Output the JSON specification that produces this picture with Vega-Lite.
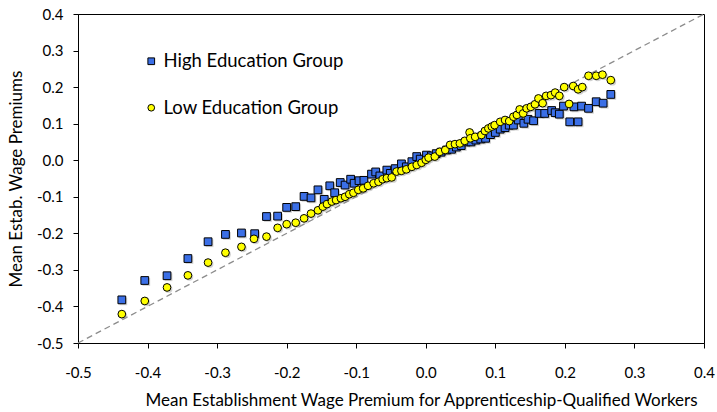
{
  "$schema": "https://vega.github.io/schema/vega-lite/v6.json",
  "width": 626,
  "height": 329,
  "autosize": "none",
  "padding": {"left": 78, "top": 14, "right": 13, "bottom": 69},
  "background": "white",
  "config": {
    "font": "Lato",
    "view": {"stroke": "black", "strokeWidth": 1},
    "axis": {
      "grid": false,
      "domainColor": "black",
      "tickColor": "black",
      "tickSize": 5,
      "labelFont": "Lato",
      "labelFontSize": 15,
      "labelColor": "black",
      "labelOverlap": false,
      "labelSeparation": 0,
      "titleFont": "Lato",
      "titleFontSize": 17,
      "titleFontWeight": "normal",
      "titleColor": "black"
    }
  },
  "datasets": {
    "diag": [{"x": -0.5, "y": -0.5}, {"x": 0.4, "y": 0.4}],
    "points": [
      {"group": "High Education Group", "x": -0.437, "y": -0.382},
      {"group": "High Education Group", "x": -0.404, "y": -0.329},
      {"group": "High Education Group", "x": -0.372, "y": -0.316},
      {"group": "High Education Group", "x": -0.342, "y": -0.269},
      {"group": "High Education Group", "x": -0.313, "y": -0.223},
      {"group": "High Education Group", "x": -0.288, "y": -0.203},
      {"group": "High Education Group", "x": -0.265, "y": -0.199},
      {"group": "High Education Group", "x": -0.246, "y": -0.201},
      {"group": "High Education Group", "x": -0.229, "y": -0.154},
      {"group": "High Education Group", "x": -0.213, "y": -0.153},
      {"group": "High Education Group", "x": -0.2, "y": -0.129},
      {"group": "High Education Group", "x": -0.187, "y": -0.127},
      {"group": "High Education Group", "x": -0.175, "y": -0.099},
      {"group": "High Education Group", "x": -0.165, "y": -0.103},
      {"group": "High Education Group", "x": -0.155, "y": -0.081},
      {"group": "High Education Group", "x": -0.146, "y": -0.107},
      {"group": "High Education Group", "x": -0.138, "y": -0.07},
      {"group": "High Education Group", "x": -0.131, "y": -0.089},
      {"group": "High Education Group", "x": -0.123, "y": -0.061},
      {"group": "High Education Group", "x": -0.116, "y": -0.068},
      {"group": "High Education Group", "x": -0.108, "y": -0.052},
      {"group": "High Education Group", "x": -0.103, "y": -0.063},
      {"group": "High Education Group", "x": -0.096, "y": -0.056},
      {"group": "High Education Group", "x": -0.089, "y": -0.055},
      {"group": "High Education Group", "x": -0.078, "y": -0.038},
      {"group": "High Education Group", "x": -0.072, "y": -0.032},
      {"group": "High Education Group", "x": -0.066, "y": -0.043},
      {"group": "High Education Group", "x": -0.056, "y": -0.027},
      {"group": "High Education Group", "x": -0.051, "y": -0.036},
      {"group": "High Education Group", "x": -0.044, "y": -0.023},
      {"group": "High Education Group", "x": -0.035, "y": -0.01},
      {"group": "High Education Group", "x": -0.028, "y": -0.018},
      {"group": "High Education Group", "x": -0.02, "y": -0.004},
      {"group": "High Education Group", "x": -0.013, "y": 0.01},
      {"group": "High Education Group", "x": -0.008, "y": 0.003},
      {"group": "High Education Group", "x": 0.001, "y": 0.014},
      {"group": "High Education Group", "x": 0.008, "y": 0.012},
      {"group": "High Education Group", "x": 0.015, "y": 0.018},
      {"group": "High Education Group", "x": 0.022, "y": 0.022},
      {"group": "High Education Group", "x": 0.03, "y": 0.028},
      {"group": "High Education Group", "x": 0.037, "y": 0.03},
      {"group": "High Education Group", "x": 0.044, "y": 0.036},
      {"group": "High Education Group", "x": 0.051, "y": 0.04},
      {"group": "High Education Group", "x": 0.058, "y": 0.05},
      {"group": "High Education Group", "x": 0.065, "y": 0.05},
      {"group": "High Education Group", "x": 0.072, "y": 0.055},
      {"group": "High Education Group", "x": 0.079, "y": 0.058},
      {"group": "High Education Group", "x": 0.086, "y": 0.06},
      {"group": "High Education Group", "x": 0.093, "y": 0.07},
      {"group": "High Education Group", "x": 0.1, "y": 0.076},
      {"group": "High Education Group", "x": 0.107, "y": 0.085},
      {"group": "High Education Group", "x": 0.114, "y": 0.089},
      {"group": "High Education Group", "x": 0.12, "y": 0.096},
      {"group": "High Education Group", "x": 0.126, "y": 0.096},
      {"group": "High Education Group", "x": 0.133, "y": 0.11},
      {"group": "High Education Group", "x": 0.141, "y": 0.101},
      {"group": "High Education Group", "x": 0.147, "y": 0.112},
      {"group": "High Education Group", "x": 0.155, "y": 0.108},
      {"group": "High Education Group", "x": 0.163, "y": 0.128},
      {"group": "High Education Group", "x": 0.171, "y": 0.128},
      {"group": "High Education Group", "x": 0.181, "y": 0.136},
      {"group": "High Education Group", "x": 0.186, "y": 0.13},
      {"group": "High Education Group", "x": 0.192, "y": 0.126},
      {"group": "High Education Group", "x": 0.198, "y": 0.148},
      {"group": "High Education Group", "x": 0.207, "y": 0.105},
      {"group": "High Education Group", "x": 0.213, "y": 0.146},
      {"group": "High Education Group", "x": 0.219, "y": 0.105},
      {"group": "High Education Group", "x": 0.224, "y": 0.148},
      {"group": "High Education Group", "x": 0.234, "y": 0.142},
      {"group": "High Education Group", "x": 0.245, "y": 0.16},
      {"group": "High Education Group", "x": 0.255, "y": 0.156},
      {"group": "High Education Group", "x": 0.266, "y": 0.18},
      {"group": "Low Education Group", "x": -0.437, "y": -0.421},
      {"group": "Low Education Group", "x": -0.404, "y": -0.385},
      {"group": "Low Education Group", "x": -0.372, "y": -0.348},
      {"group": "Low Education Group", "x": -0.342, "y": -0.315},
      {"group": "Low Education Group", "x": -0.313, "y": -0.28},
      {"group": "Low Education Group", "x": -0.288, "y": -0.253},
      {"group": "Low Education Group", "x": -0.265, "y": -0.237},
      {"group": "Low Education Group", "x": -0.247, "y": -0.215},
      {"group": "Low Education Group", "x": -0.229, "y": -0.209},
      {"group": "Low Education Group", "x": -0.213, "y": -0.185},
      {"group": "Low Education Group", "x": -0.2, "y": -0.175},
      {"group": "Low Education Group", "x": -0.187, "y": -0.171},
      {"group": "Low Education Group", "x": -0.175, "y": -0.159},
      {"group": "Low Education Group", "x": -0.165, "y": -0.146},
      {"group": "Low Education Group", "x": -0.155, "y": -0.137},
      {"group": "Low Education Group", "x": -0.148, "y": -0.127},
      {"group": "Low Education Group", "x": -0.142, "y": -0.12},
      {"group": "Low Education Group", "x": -0.135, "y": -0.113},
      {"group": "Low Education Group", "x": -0.129, "y": -0.109},
      {"group": "Low Education Group", "x": -0.122, "y": -0.104},
      {"group": "Low Education Group", "x": -0.116, "y": -0.1},
      {"group": "Low Education Group", "x": -0.11, "y": -0.093},
      {"group": "Low Education Group", "x": -0.104, "y": -0.089},
      {"group": "Low Education Group", "x": -0.097, "y": -0.081},
      {"group": "Low Education Group", "x": -0.09, "y": -0.077},
      {"group": "Low Education Group", "x": -0.083, "y": -0.07},
      {"group": "Low Education Group", "x": -0.075, "y": -0.063},
      {"group": "Low Education Group", "x": -0.068, "y": -0.059},
      {"group": "Low Education Group", "x": -0.062, "y": -0.052},
      {"group": "Low Education Group", "x": -0.056, "y": -0.049},
      {"group": "Low Education Group", "x": -0.049, "y": -0.047},
      {"group": "Low Education Group", "x": -0.042, "y": -0.031},
      {"group": "Low Education Group", "x": -0.035, "y": -0.029},
      {"group": "Low Education Group", "x": -0.028, "y": -0.025},
      {"group": "Low Education Group", "x": -0.02, "y": -0.018},
      {"group": "Low Education Group", "x": -0.013, "y": -0.013},
      {"group": "Low Education Group", "x": -0.006, "y": -0.007},
      {"group": "Low Education Group", "x": 0.0, "y": 0.001},
      {"group": "Low Education Group", "x": 0.004, "y": 0.007},
      {"group": "Low Education Group", "x": 0.013, "y": 0.01},
      {"group": "Low Education Group", "x": 0.02, "y": 0.023},
      {"group": "Low Education Group", "x": 0.028, "y": 0.028},
      {"group": "Low Education Group", "x": 0.035, "y": 0.042},
      {"group": "Low Education Group", "x": 0.042, "y": 0.044},
      {"group": "Low Education Group", "x": 0.049, "y": 0.046},
      {"group": "Low Education Group", "x": 0.056, "y": 0.053},
      {"group": "Low Education Group", "x": 0.063, "y": 0.076},
      {"group": "Low Education Group", "x": 0.064, "y": 0.06},
      {"group": "Low Education Group", "x": 0.071, "y": 0.064},
      {"group": "Low Education Group", "x": 0.08, "y": 0.069},
      {"group": "Low Education Group", "x": 0.085, "y": 0.08},
      {"group": "Low Education Group", "x": 0.09, "y": 0.087},
      {"group": "Low Education Group", "x": 0.095, "y": 0.092},
      {"group": "Low Education Group", "x": 0.099, "y": 0.096},
      {"group": "Low Education Group", "x": 0.107, "y": 0.105},
      {"group": "Low Education Group", "x": 0.114, "y": 0.11},
      {"group": "Low Education Group", "x": 0.12, "y": 0.107},
      {"group": "Low Education Group", "x": 0.126, "y": 0.119},
      {"group": "Low Education Group", "x": 0.131, "y": 0.124},
      {"group": "Low Education Group", "x": 0.135, "y": 0.139},
      {"group": "Low Education Group", "x": 0.14, "y": 0.128},
      {"group": "Low Education Group", "x": 0.145, "y": 0.142},
      {"group": "Low Education Group", "x": 0.151, "y": 0.146},
      {"group": "Low Education Group", "x": 0.157, "y": 0.153},
      {"group": "Low Education Group", "x": 0.162, "y": 0.169},
      {"group": "Low Education Group", "x": 0.168, "y": 0.156},
      {"group": "Low Education Group", "x": 0.173, "y": 0.176},
      {"group": "Low Education Group", "x": 0.18, "y": 0.178},
      {"group": "Low Education Group", "x": 0.186, "y": 0.185},
      {"group": "Low Education Group", "x": 0.192, "y": 0.176},
      {"group": "Low Education Group", "x": 0.199, "y": 0.2},
      {"group": "Low Education Group", "x": 0.206, "y": 0.154},
      {"group": "Low Education Group", "x": 0.212, "y": 0.203},
      {"group": "Low Education Group", "x": 0.219, "y": 0.194},
      {"group": "Low Education Group", "x": 0.225, "y": 0.2},
      {"group": "Low Education Group", "x": 0.234, "y": 0.231},
      {"group": "Low Education Group", "x": 0.245, "y": 0.231},
      {"group": "Low Education Group", "x": 0.254, "y": 0.234},
      {"group": "Low Education Group", "x": 0.266, "y": 0.219}
    ]
  },
  "encoding": {
    "x": {
      "field": "x",
      "type": "quantitative",
      "scale": {"domain": [-0.5, 0.4], "nice": false, "zero": false},
      "axis": {
        "values": [-0.5, -0.4, -0.3, -0.2, -0.1, 0, 0.1, 0.2, 0.3, 0.4],
        "format": ".1f",
        "labelExpr": "replace(datum.label, '\u2212', '-')",
        "labelPadding": 17,
        "labelFlush": false,
        "labelOverlap": false,
        "title": "Mean Establishment Wage Premium for Apprenticeship-Qualified Workers",
        "titleX": 343,
        "titleY": 62,
        "titleAnchor": null,
        "titleAlign": "center",
        "titleBaseline": "alphabetic"
      }
    },
    "y": {
      "field": "y",
      "type": "quantitative",
      "scale": {"domain": [-0.5, 0.4], "nice": false, "zero": false},
      "axis": {
        "values": [-0.5, -0.4, -0.3, -0.2, -0.1, 0, 0.1, 0.2, 0.3, 0.4],
        "format": ".1f",
        "labelExpr": "replace(datum.label, '\u2212', '-')",
        "labelPadding": 10,
        "labelFlush": false,
        "labelOverlap": false,
        "labelSeparation": 0,
        "title": "Mean Estab. Wage Premiums",
        "titlePadding": 11
      }
    }
  },
  "layer": [
    {
      "data": {"name": "diag"},
      "mark": {"type": "line", "color": "#8c8c8c", "strokeWidth": 1.3, "strokeDash": [6, 4]}
    },
    {
      "data": {"name": "points"},
      "transform": [{"filter": "datum.group === 'High Education Group'"}],
      "mark": {"type": "point", "shape": "square", "filled": true, "size": 60, "color": "#9a9a9a", "opacity": 0.45, "xOffset": 1.5, "yOffset": 1.5}
    },
    {
      "data": {"name": "points"},
      "transform": [{"filter": "datum.group === 'Low Education Group'"}],
      "mark": {"type": "point", "shape": "circle", "filled": true, "size": 60, "color": "#9a9a9a", "opacity": 0.45, "xOffset": 1.5, "yOffset": 1.5}
    },
    {
      "data": {"name": "points"},
      "mark": {"type": "point", "filled": true, "size": 60, "stroke": "black", "strokeWidth": 1, "opacity": 1},
      "encoding": {
        "color": {
          "field": "group",
          "type": "nominal",
          "scale": {"domain": ["High Education Group", "Low Education Group"], "range": ["#3b6fe6", "#ffff00"]},
          "legend": {
            "orient": "none",
            "legendX": 64,
            "legendY": 38,
            "title": null,
            "labelFont": "Lato",
            "labelFontSize": 18.5,
            "labelLimit": 400,
            "labelColor": "black",
            "symbolSize": 45,
            "symbolStrokeColor": "black",
            "symbolStrokeWidth": 1,
            "rowPadding": 27.5,
            "labelOffset": 3
          }
        },
        "shape": {
          "field": "group",
          "type": "nominal",
          "scale": {"domain": ["High Education Group", "Low Education Group"], "range": ["square", "circle"]}
        }
      }
    }
  ]
}
